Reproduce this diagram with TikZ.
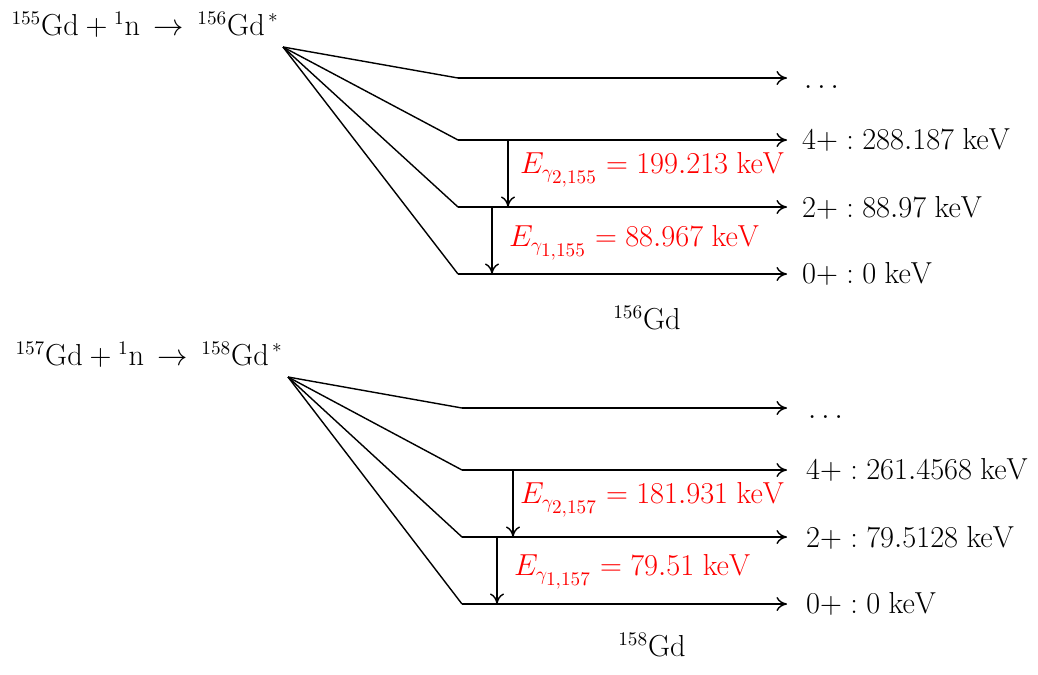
\documentclass[tikz,border=0pt]{standalone}
\usepackage{amsmath}
\usepackage{amssymb}
\usetikzlibrary{arrows.meta}

\begin{document}
\begin{tikzpicture}[
		x=0.02cm, y=-0.02cm,
		every node/.style={inner sep=1pt, font=\fontsize{16}{19}\selectfont},
		level/.style={line width=0.8pt, -{To[length=6pt,width=8pt]}},
		fan/.style={line width=0.8pt},
		gamma/.style={line width=0.8pt, -{To[length=6pt,width=8pt]}},
		glabel/.style={anchor=west, text=red}
	]
  \useasboundingbox (0,0) rectangle (1038,674);
  % upper scheme: 156Gd
  \node (r_155) at (145, 25) {$^{155}\mathrm{Gd} + {}^{1}\mathrm{n} \,\rightarrow\, {}^{156}\mathrm{Gd}^{\,*}$};
  \coordinate (c_155) at (283, 47);
  \coordinate (a_3) at (458, 78);
  \coordinate (a_2) at (458, 140);
  \coordinate (a_1) at (458, 207);
  \coordinate (a_0) at (458, 274);
  \coordinate (b_3) at (787, 78);
  \coordinate (b_2) at (787, 140);
  \coordinate (b_1) at (787, 207);
  \coordinate (b_0) at (787, 274);
  \draw [fan] (c_155) -- (a_3);
  \draw [fan] (c_155) -- (a_2);
  \draw [fan] (c_155) -- (a_1);
  \draw [fan] (c_155) -- (a_0);
  \draw [level] (a_3) -- (b_3);
  \draw [level] (a_2) -- (b_2);
  \draw [level] (a_1) -- (b_1);
  \draw [level] (a_0) -- (b_0);
  \node (d_155) [anchor=base west] at (802, 88) {$\dots$};
  \node (s_4_155) [anchor=west] at (800, 140) {$4+ : 288.187\ \mathrm{keV}$};
  \node (s_2_155) [anchor=west] at (800, 208) {$2+ : 88.97\ \mathrm{keV}$};
  \node (s_0_155) [anchor=west] at (800, 274) {$0+ : 0\ \mathrm{keV}$};
  \coordinate (g2_top) at (508, 140);
  \coordinate (g2_bot) at (508, 207);
  \coordinate (g1_top) at (492, 208);
  \coordinate (g1_bot) at (492, 274);
  \draw [gamma] (g2_top) -- (g2_bot);
  \draw [gamma] (g1_top) -- (g1_bot);
  \node (e2_155) [glabel] at (518, 170) {$E_{\gamma_{\scriptstyle 2,155}} = 199.213\ \mathrm{keV}$};
  \node (e1_155) [glabel] at (507, 243) {$E_{\gamma_{\scriptstyle 1,155}} = 88.967\ \mathrm{keV}$};
  \node (n_156) at (647, 318) {$^{156}\mathrm{Gd}$};
  % lower scheme: 158Gd
  \node (r_157) at (149, 355) {$^{157}\mathrm{Gd} + {}^{1}\mathrm{n} \,\rightarrow\, {}^{158}\mathrm{Gd}^{\,*}$};
  \coordinate (c_157) at (288, 377);
  \coordinate (p_3) at (462, 408);
  \coordinate (p_2) at (462, 470);
  \coordinate (p_1) at (462, 537);
  \coordinate (p_0) at (462, 604);
  \coordinate (q_3) at (787, 408);
  \coordinate (q_2) at (787, 470);
  \coordinate (q_1) at (787, 537);
  \coordinate (q_0) at (787, 604);
  \draw [fan] (c_157) -- (p_3);
  \draw [fan] (c_157) -- (p_2);
  \draw [fan] (c_157) -- (p_1);
  \draw [fan] (c_157) -- (p_0);
  \draw [level] (p_3) -- (q_3);
  \draw [level] (p_2) -- (q_2);
  \draw [level] (p_1) -- (q_1);
  \draw [level] (p_0) -- (q_0);
  \node (d_157) [anchor=base west] at (806, 418) {$\dots$};
  \node (s_4_157) [anchor=west] at (804, 470) {$4+ : 261.4568\ \mathrm{keV}$};
  \node (s_2_157) [anchor=west] at (804, 538) {$2+ : 79.5128\ \mathrm{keV}$};
  \node (s_0_157) [anchor=west] at (804, 604) {$0+ : 0\ \mathrm{keV}$};
  \coordinate (h2_top) at (513, 470);
  \coordinate (h2_bot) at (513, 537);
  \coordinate (h1_top) at (497, 538);
  \coordinate (h1_bot) at (497, 604);
  \draw [gamma] (h2_top) -- (h2_bot);
  \draw [gamma] (h1_top) -- (h1_bot);
  \node (e2_157) [glabel] at (518, 500) {$E_{\gamma_{\scriptstyle 2,157}} = 181.931\ \mathrm{keV}$};
  \node (e1_157) [glabel] at (512, 572) {$E_{\gamma_{\scriptstyle 1,157}} = 79.51\ \mathrm{keV}$};
  \node (n_158) at (652, 645) {$^{158}\mathrm{Gd}$};
\end{tikzpicture}
\end{document}
